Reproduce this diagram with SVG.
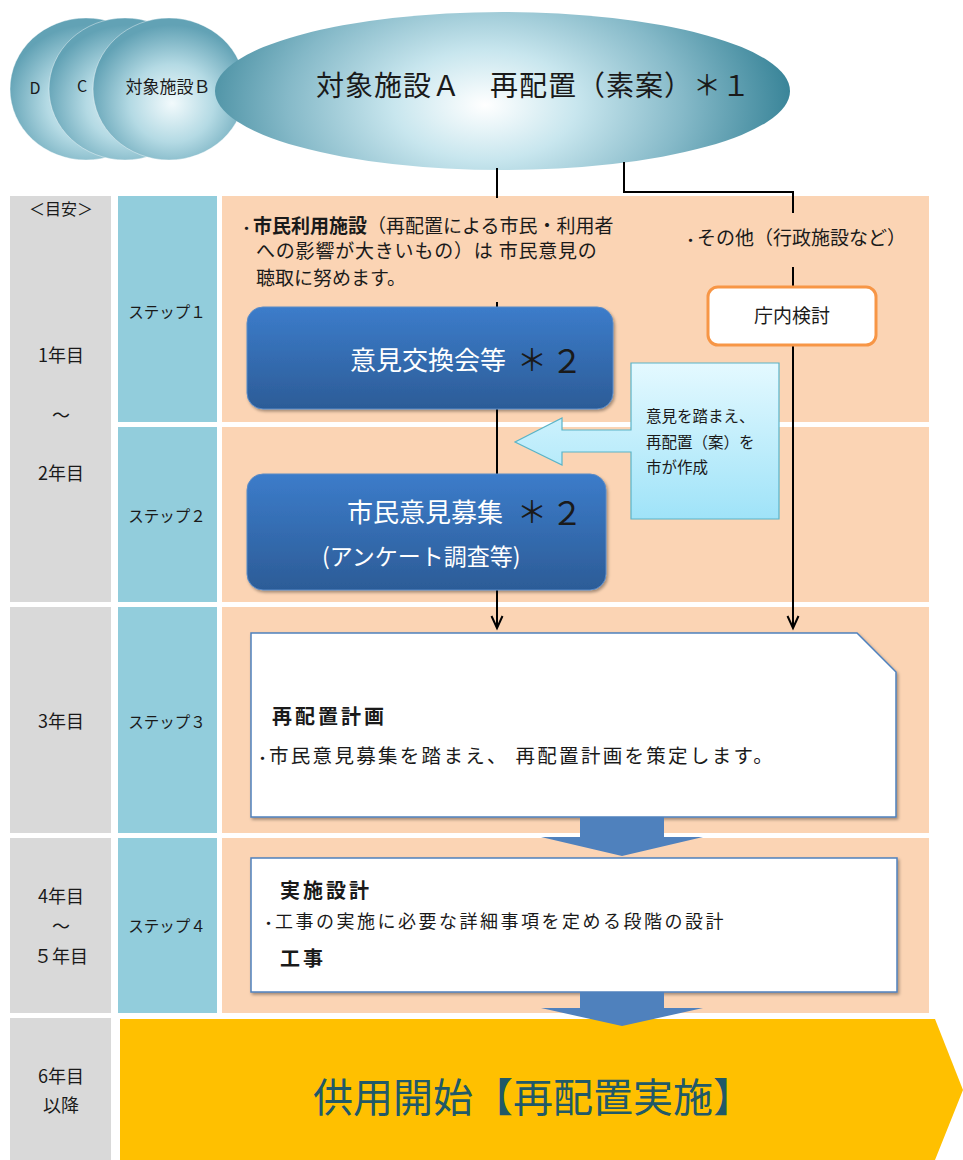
<svg xmlns="http://www.w3.org/2000/svg" width="963" height="1160" viewBox="0 0 963 1160">
<style>
text{font-family:'Noto Sans CJK JP','Noto Sans CJK SC',sans-serif;fill:#1a1a1a}
.gray{fill:#D9D9D9}
.blue{fill:#92CDDC}
.peach{fill:#FBD4B4}
.lbl{font-size:18px;text-anchor:middle}
.step{font-size:15.5px;text-anchor:middle}
.conn{stroke:#000;stroke-width:2;fill:none}
.wbox{fill:#fff;stroke:#4F81BD;stroke-width:1.5}
.bigarrow{fill:#4F81BD}
.wt{fill:#fff}
.b{font-weight:bold}
.dot{font-size:13px;font-weight:bold}
</style>
<defs>
<radialGradient id="gA" gradientUnits="userSpaceOnUse" cx="485" cy="105" r="305" gradientTransform="translate(485 105) scale(1 0.6) translate(-485 -105)">
<stop offset="0" stop-color="#FFFFFF"/>
<stop offset="0.3" stop-color="#C8E6EE"/>
<stop offset="0.65" stop-color="#85B9C8"/>
<stop offset="1" stop-color="#3A8599"/>
</radialGradient>
<radialGradient id="gC" cx="0.52" cy="0.6" r="0.55">
<stop offset="0" stop-color="#F2FAFC"/>
<stop offset="0.5" stop-color="#B4DAE4"/>
<stop offset="1" stop-color="#62A2B5"/>
</radialGradient>
<linearGradient id="gBlue" x1="0" y1="0" x2="0" y2="1">
<stop offset="0" stop-color="#3C7CCA"/>
<stop offset="1" stop-color="#2C5C97"/>
</linearGradient>
<linearGradient id="gCall" gradientUnits="userSpaceOnUse" x1="0" y1="363" x2="0" y2="519">
<stop offset="0" stop-color="#E4F9FF"/>
<stop offset="1" stop-color="#9FE3F8"/>
</linearGradient>
<filter id="sh" x="-5%" y="-5%" width="110%" height="115%">
<feDropShadow dx="1.5" dy="2" stdDeviation="1.5" flood-color="#000" flood-opacity="0.35"/>
</filter>
<marker id="arr" markerUnits="userSpaceOnUse" markerWidth="16" markerHeight="16" viewBox="-14 -8 16 16" refX="0" refY="0" orient="auto" overflow="visible">
<path d="M-12,-5.5 L0,0 L-12,5.5" fill="none" stroke="#000" stroke-width="2"/>
</marker>
</defs>

<g id="background-rows">
<rect class="gray" x="10" y="196" width="101" height="406"/>
<rect class="blue" x="118" y="196" width="99" height="226"/>
<rect class="peach" x="222" y="196" width="707" height="226"/>
<rect class="blue" x="118" y="427" width="99" height="175"/>
<rect class="peach" x="222" y="427" width="707" height="175"/>
<rect class="gray" x="10" y="607" width="101" height="226"/>
<rect class="blue" x="118" y="607" width="99" height="226"/>
<rect class="peach" x="222" y="607" width="707" height="226"/>
<rect class="gray" x="10" y="838" width="101" height="175"/>
<rect class="blue" x="118" y="838" width="99" height="175"/>
<rect class="peach" x="222" y="838" width="707" height="175"/>
<rect class="gray" x="10" y="1018" width="101" height="142"/>
</g>

<g id="year-labels">
<text class="lbl" x="61" y="215" style="font-size:16px">＜目安＞</text>
<text class="lbl" x="61" y="362">1年目</text>
<text class="lbl" x="61" y="422">～</text>
<text class="lbl" x="61" y="480">2年目</text>
<text class="lbl" x="61" y="728">3年目</text>
<text class="lbl" x="61" y="903">4年目</text>
<text class="lbl" x="61" y="933">～</text>
<text class="lbl" x="61" y="963">５年目</text>
<text class="lbl" x="61" y="1083">6年目</text>
<text class="lbl" x="61" y="1112">以降</text>
</g>

<g id="step-labels">
<text class="step" x="167" y="318">ステップ１</text>
<text class="step" x="167" y="522">ステップ２</text>
<text class="step" x="167" y="728">ステップ３</text>
<text class="step" x="167" y="932">ステップ４</text>
</g>

<g id="facility-D">
<ellipse cx="86" cy="89" rx="76" ry="71" fill="url(#gC)" stroke="#ffffff" stroke-opacity="0.4"/>
<text x="35" y="94" style="font-size:16px" text-anchor="middle">D</text>
</g>
<g id="facility-C">
<ellipse cx="125" cy="89" rx="76" ry="71" fill="url(#gC)" stroke="#ffffff" stroke-opacity="0.4"/>
<text x="82" y="92" style="font-size:16px" text-anchor="middle">C</text>
</g>
<g id="facility-B">
<ellipse cx="169" cy="89" rx="76" ry="71" fill="url(#gC)" stroke="#ffffff" stroke-opacity="0.4"/>
<text x="168" y="93" style="font-size:17px" text-anchor="middle">対象施設Ｂ</text>
</g>
<g id="facility-A">
<ellipse cx="502.5" cy="91" rx="287.5" ry="79" fill="url(#gA)"/>
<text x="316" y="96" style="font-size:28px;letter-spacing:1px">対象施設Ａ　再配置（素案）＊１</text>
</g>

<g id="connectors">
<path class="conn" d="M497,168 V198"/>
<path class="conn" d="M497,302 V308"/>
<path class="conn" d="M497,409 V474"/>
<path class="conn" d="M497,590 V628" marker-end="url(#arr)"/>
<path class="conn" d="M624,162 V192 H793 V213"/>
<path class="conn" d="M793,267 V286"/>
<path class="conn" d="M793,346 V628" marker-end="url(#arr)"/>
</g>

<g id="note-citizen">
<text x="240" y="233" style="font-size:19px"><tspan class="dot">・</tspan><tspan class="b">市民利用施設</tspan>（再配置による市民・利用者</text>
<text x="256" y="258" style="font-size:19px;letter-spacing:0.8px">への影響が大きいもの）は 市民意見の</text>
<text x="256" y="285" style="font-size:19px">聴取に努めます。</text>
</g>

<g id="note-other">
<text x="684" y="245" style="font-size:19px"><tspan class="dot">・</tspan>その他（行政施設など）</text>
</g>

<g id="internal-review">
<rect x="708" y="287" width="168" height="58" rx="10" fill="#fff" stroke="#F79646" stroke-width="3"/>
<text x="792" y="323" style="font-size:19px" text-anchor="middle">庁内検討</text>
</g>

<g id="opinion-exchange">
<rect x="247" y="307" width="366" height="102" rx="16" fill="url(#gBlue)" stroke="#5B8BC6" stroke-width="1" filter="url(#sh)"/>
<text x="350" y="370" style="font-size:26px" class="wt">意見交換会等</text>
<text x="517" y="371" style="font-size:30px">＊</text>
<text x="551" y="373" style="font-size:32px">２</text>
</g>

<g id="public-comment">
<rect x="247" y="474" width="359" height="116" rx="16" fill="url(#gBlue)" stroke="#5B8BC6" stroke-width="1" filter="url(#sh)"/>
<text x="347" y="522" style="font-size:26px" class="wt">市民意見募集</text>
<text x="517" y="523" style="font-size:30px">＊</text>
<text x="551" y="525" style="font-size:32px">２</text>
<text x="322" y="565" style="font-size:23px" class="wt">(アンケート調査等)</text>
</g>

<g id="callout">
<path d="M631,363 H779 V519 H631 V452 H562 V465 L515,442 L562,418 V430 H631 Z" fill="url(#gCall)" stroke="#5AB4C8" stroke-width="1.2"/>
<text x="646" y="422" style="font-size:15.5px">意見を踏まえ、</text>
<text x="646" y="448" style="font-size:15.5px">再配置（案）を</text>
<text x="646" y="473" style="font-size:15.5px">市が作成</text>
</g>

<g id="step3-plan">
<path class="wbox" d="M251,633 H857 L896,672 V817 H251 Z" filter="url(#sh)"/>
<text x="272" y="724" class="b" style="font-size:20px;letter-spacing:3px">再配置計画</text>
<text x="256" y="763" style="font-size:19.5px;letter-spacing:2.3px"><tspan class="dot" style="letter-spacing:0">・</tspan>市民意見募集を踏まえ、 再配置計画を策定します。</text>
</g>

<g id="arrow-3-4">
<path class="bigarrow" d="M580,817 H664 V837 H703 L622,856 L541,837 H580 Z"/>
</g>

<g id="step4-design">
<rect class="wbox" x="251" y="858" width="646" height="134" filter="url(#sh)"/>
<text x="280" y="898" class="b" style="font-size:20px;letter-spacing:3px">実施設計</text>
<text x="262" y="928" style="font-size:18px;letter-spacing:2.5px"><tspan class="dot" style="letter-spacing:0">・</tspan>工事の実施に必要な詳細事項を定める段階の設計</text>
<text x="280" y="966" class="b" style="font-size:20px;letter-spacing:3px">工事</text>
</g>

<g id="service-start">
<path d="M120,1019 H935 L963,1090 L935,1160 H120 Z" fill="#FFC000"/>
<text x="533" y="1112" style="font-size:40px;fill:#215968" text-anchor="middle">供用開始【再配置実施】</text>
</g>

<g id="arrow-4-5">
<path class="bigarrow" d="M580,992 H664 V1008 H703 L622,1026 L541,1008 H580 Z"/>
</g>
</svg>
